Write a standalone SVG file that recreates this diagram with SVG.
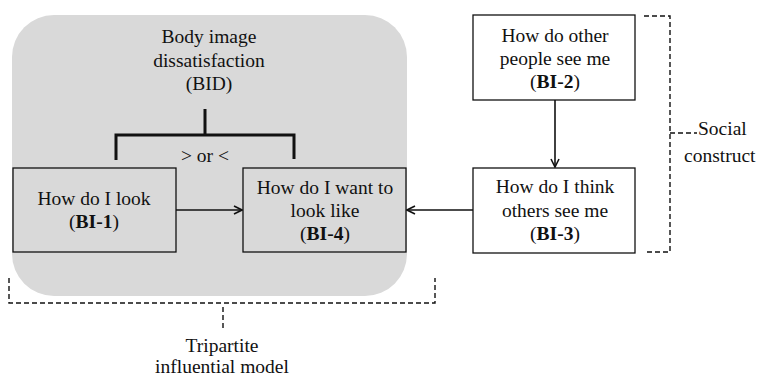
<svg xmlns="http://www.w3.org/2000/svg" width="763" height="378" viewBox="0 0 763 378" font-family="'Liberation Serif', 'Times New Roman', serif">
<style>
text{font-family:'Liberation Serif','Times New Roman',serif;font-size:19.5px;fill:#111;text-anchor:middle}
.b{font-weight:bold}
.st{text-anchor:start}
.box{fill:#d9d9d9;stroke:#111;stroke-width:1.3}
.wbox{fill:#fff;stroke:#111;stroke-width:1.3}
.ln{fill:none;stroke:#111;stroke-width:1.6}
.dash{fill:none;stroke:#111;stroke-width:1.4;stroke-dasharray:5,3}
</style>
<defs>
<marker id="ah" viewBox="0 0 10 10" refX="9" refY="5" markerWidth="10" markerHeight="10" markerUnits="userSpaceOnUse" orient="auto">
<path d="M1,1 L9,5 L1,9" fill="none" stroke="#111" stroke-width="1.6"/>
</marker>
</defs>
<g id="bid">
<rect x="12" y="15" width="395" height="281" rx="42" ry="42" fill="#d9d9d9"/>
<text x="209" y="43">Body image</text>
<text x="209" y="67">dissatisfaction</text>
<text x="209" y="90">(BID)</text>
<path d="M205,109 V135 M116,160 V135 H294 V159" fill="none" stroke="#111" stroke-width="3"/>
<text x="205" y="162">&gt; or &lt;</text>
</g>
<g id="bi1">
<rect class="box" x="13" y="168" width="163" height="84"/>
<text x="94" y="205">How do I look</text>
<text x="94" y="228">(<tspan class="b">BI-1</tspan>)</text>
</g>
<g id="bi4">
<rect class="box" x="243" y="168" width="163" height="84"/>
<text x="325" y="194">How do I want to</text>
<text x="325" y="217">look like</text>
<text x="325" y="240">(<tspan class="b">BI-4</tspan>)</text>
</g>
<g id="bi2">
<rect class="wbox" x="473" y="15" width="162" height="85"/>
<text x="555" y="42">How do other</text>
<text x="555" y="65">people see me</text>
<text x="555" y="88">(<tspan class="b">BI-2</tspan>)</text>
</g>
<g id="bi3">
<rect class="wbox" x="473" y="168" width="162" height="85"/>
<text x="555" y="193">How do I think</text>
<text x="555" y="217">others see me</text>
<text x="555" y="240">(<tspan class="b">BI-3</tspan>)</text>
</g>
<g id="connectors">
<line class="ln" x1="176" y1="210" x2="242" y2="210" marker-end="url(#ah)"/>
<line class="ln" x1="473" y1="210" x2="407" y2="210" marker-end="url(#ah)"/>
<line class="ln" x1="555" y1="100" x2="555" y2="167" marker-end="url(#ah)"/>
<path class="dash" d="M644,16 H670 V252 H644 M670,133 H697"/>
<path class="dash" d="M9,278 V303 H435 V278 M223,307 V330"/>
</g>
<g id="labels">
<text class="st" x="698" y="135">Social</text>
<text class="st" x="684" y="162">construct</text>
<text x="222" y="352">Tripartite</text>
<text x="222" y="373">influential model</text>
</g>
</svg>
